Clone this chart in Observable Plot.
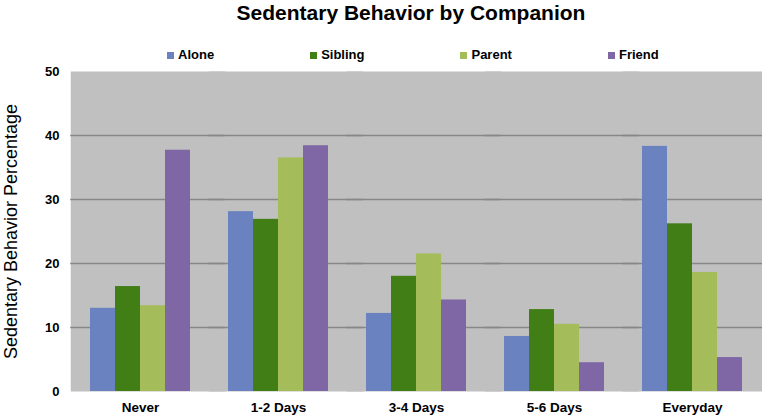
<!DOCTYPE html>
<html>
<head>
<meta charset="utf-8">
<script src="https://cdn.jsdelivr.net/npm/d3@7"></script>
<script src="https://cdn.jsdelivr.net/npm/@observablehq/plot@0.6"></script>
<style>
  body { margin: 0; background: #fff; font-family: "Liberation Sans", Arial, sans-serif; width: 762px; height: 418px; overflow: hidden; }
  #title { font-size: 21px; font-weight: bold; text-align: center; line-height: 26px; height: 26px; color: #000; padding-left: 60px; }
  #legend { margin-top: 21px; height: 16px; line-height: 16px; display: flex; gap: 96px; padding-left: 167px; font-size: 13px; font-weight: bold; }
  #legend .item { display: flex; align-items: center; }
  #legend .sw { width: 7px; height: 7px; margin-right: 4px; }
  #chart svg { display: block; overflow: visible; }
</style>
</head>
<body>
<div id="title">Sedentary Behavior by Companion</div>
<div id="legend"></div>
<div id="chart"></div>
<script>
const categories = ["Never", "1-2 Days", "3-4 Days", "5-6 Days", "Everyday"];
const series = ["Alone", "Sibling", "Parent", "Friend"];
const colors = ["#6a83c0", "#417f16", "#a5bc5a", "#7f66a4"];
const alone   = [13.0, 28.1, 12.2, 8.6, 38.3];
const sibling = [16.4, 26.9, 18.0, 12.8, 26.2];
const parent  = [13.4, 36.5, 21.5, 10.5, 18.6];
const friend  = [37.7, 38.4, 14.3, 4.5, 5.3];
const yTicks = [0, 10, 20, 30, 40, 50];
const gridTicks = [10, 20, 30, 40];

const valuesBySeries = [alone, sibling, parent, friend];
const data = [];
categories.forEach((c, i) => {
  series.forEach((s, j) => data.push({category: c, series: s, value: valuesBySeries[j][i]}));
});

const legend = document.getElementById("legend");
series.forEach((s, j) => {
  const it = document.createElement("div");
  it.className = "item";
  it.innerHTML = `<span class="sw" style="background:${colors[j]}"></span><span>${s}</span>`;
  legend.appendChild(it);
});

const plotWidth = 762, mLeft = 69, mRight = 0;
const pInner = 0.278, pOuter = 0.139;
const step = (plotWidth - mLeft - mRight) / (categories.length - pInner + 2 * pOuter);
const halfGap = step * pInner / 2 + 0.5;
const extra = 15;

const chart = Plot.plot({
  width: plotWidth,
  height: 356,
  marginTop: 8,
  marginBottom: 28,
  marginLeft: mLeft,
  marginRight: mRight,
  style: {fontFamily: "Liberation Sans, Arial, sans-serif", color: "#000", background: "transparent"},
  fx: {domain: categories, paddingInner: pInner, paddingOuter: pOuter},
  x: {domain: series, padding: 0, axis: null},
  y: {domain: [0, 50]},
  color: {domain: series, range: colors},
  marks: [
    Plot.frame({fill: "#c0c0c0", stroke: null, insetLeft: -halfGap, insetRight: -(halfGap + extra)}),
    Plot.ruleY(gridTicks, {stroke: "#878787", strokeWidth: 1.5, insetLeft: -halfGap, insetRight: -(halfGap + extra)}),
    Plot.barY(data, {fx: "category", x: "series", y: "value", fill: "series"}),
    Plot.axisY({ticks: yTicks, tickSize: 0, tickPadding: 31, fontSize: 13, fontWeight: "bold", label: null}),
    Plot.axisY({ticks: [], label: "Sedentary Behavior Percentage", labelAnchor: "center", labelArrow: "none", labelOffset: 86, fontSize: 18}),
    Plot.axisFx({anchor: "bottom", tickSize: 0, tickPadding: 11, fontSize: 13.5, fontWeight: "bold", label: null})
  ]
});
document.getElementById("chart").appendChild(chart);
</script>
</body>
</html>
